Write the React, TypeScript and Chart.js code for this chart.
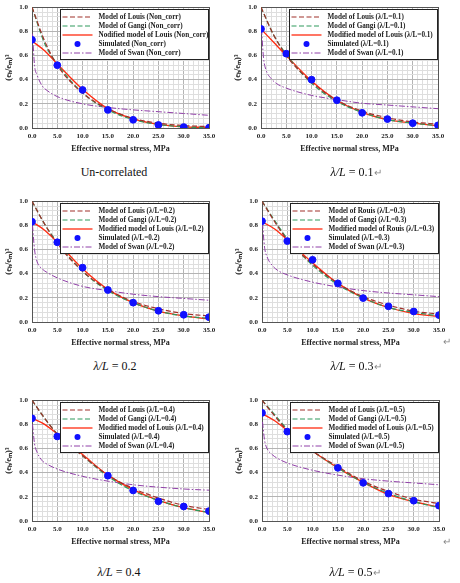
import React, { useEffect, useRef } from "react";
import { Chart, registerables } from "chart.js";
Chart.register(...registerables);

const SERIF = '"Liberation Serif", "Times New Roman", serif';
Chart.defaults.font.family = SERIF;

// x positions (MPa)
const X_MODEL = [0, 2.5, 5, 10, 15, 20, 25, 30, 35];
const X_SIM = [0, 5, 10, 15, 20, 25, 30, 35];
const X_SWAN = [0.1, 0.5, 1, 2, 3, 5, 10, 15, 20, 25, 30, 35];

// Un-correlated
const LOUIS_NC = [1.0, 0.72, 0.52, 0.29, 0.16, 0.08, 0.04, 0.02, 0.012];
const GANGI_NC = [1.0, 0.7, 0.53, 0.29, 0.15, 0.07, 0.03, 0.01, 0.0];
const MOD_NC = [0.72, 0.64, 0.53, 0.32, 0.16, 0.075, 0.03, 0.01, 0.005];
const SIM_NC = [0.73, 0.52, 0.315, 0.15, 0.068, 0.025, 0.008, 0.002];
const SWAN_NC = [0.78, 0.52, 0.44, 0.35, 0.31, 0.26, 0.2, 0.17, 0.15, 0.135, 0.12, 0.105];

// λ/L = 0.1
const LOUIS_01 = [1.0, 0.77, 0.6, 0.38, 0.23, 0.14, 0.085, 0.05, 0.032];
const GANGI_01 = [1.0, 0.77, 0.61, 0.37, 0.22, 0.13, 0.07, 0.04, 0.02];
const MOD_01 = [0.82, 0.71, 0.6, 0.39, 0.23, 0.13, 0.07, 0.04, 0.02];
const SIM_01 = [0.82, 0.615, 0.4, 0.23, 0.126, 0.074, 0.04, 0.022];
const SWAN_01 = [0.82, 0.58, 0.48, 0.41, 0.37, 0.33, 0.27, 0.235, 0.205, 0.19, 0.175, 0.16];

// λ/L = 0.2
const LOUIS_02 = [1.0, 0.81, 0.65, 0.42, 0.27, 0.17, 0.11, 0.07, 0.05];
const GANGI_02 = [1.0, 0.81, 0.66, 0.42, 0.26, 0.16, 0.09, 0.05, 0.03];
const MOD_02 = [0.83, 0.76, 0.66, 0.44, 0.27, 0.16, 0.09, 0.05, 0.025];
const SIM_02 = [0.83, 0.66, 0.45, 0.265, 0.16, 0.093, 0.06, 0.04];
const SWAN_02 = [0.8, 0.6, 0.5, 0.44, 0.41, 0.365, 0.295, 0.26, 0.23, 0.21, 0.195, 0.18];

// λ/L = 0.3
const LOUIS_03 = [1.0, 0.83, 0.68, 0.48, 0.32, 0.21, 0.14, 0.09, 0.065];
const GANGI_03 = [1.0, 0.84, 0.69, 0.47, 0.31, 0.2, 0.12, 0.08, 0.05];
const MOD_03 = [0.83, 0.77, 0.68, 0.49, 0.32, 0.2, 0.12, 0.07, 0.045];
const SIM_03 = [0.835, 0.67, 0.515, 0.32, 0.198, 0.13, 0.087, 0.057];
const SWAN_03 = [0.82, 0.62, 0.54, 0.47, 0.43, 0.39, 0.33, 0.29, 0.26, 0.24, 0.225, 0.21];

// λ/L = 0.4
const LOUIS_04 = [1.0, 0.85, 0.72, 0.54, 0.38, 0.27, 0.19, 0.13, 0.095];
const GANGI_04 = [1.0, 0.85, 0.72, 0.54, 0.37, 0.25, 0.17, 0.11, 0.07];
const MOD_04 = [0.85, 0.8, 0.72, 0.55, 0.38, 0.26, 0.17, 0.11, 0.07];
const SIM_04 = [0.85, 0.7, null, 0.375, 0.253, 0.163, 0.12, 0.082];
const SWAN_04 = [0.8, 0.64, 0.57, 0.5, 0.47, 0.43, 0.37, 0.33, 0.3, 0.28, 0.265, 0.255];

// λ/L = 0.5
const LOUIS_05 = [1.0, 0.87, 0.75, 0.58, 0.45, 0.33, 0.245, 0.18, 0.145];
const GANGI_05 = [1.0, 0.88, 0.76, 0.58, 0.44, 0.32, 0.23, 0.16, 0.11];
const MOD_05 = [0.89, 0.83, 0.75, 0.58, 0.44, 0.32, 0.22, 0.16, 0.115];
const SIM_05 = [0.895, 0.74, null, 0.44, 0.316, 0.227, 0.168, 0.127];
const SWAN_05 = [0.82, 0.67, 0.6, 0.55, 0.52, 0.48, 0.42, 0.38, 0.35, 0.33, 0.315, 0.3];

const X_TICK_STEP = 1;
const Y_TICK_STEP = 0.04;
const X_TITLE = "Effective normal stress, MPa";
const Y_TITLE = "(eₕ/eₘ)³";

const NAMES_NC = [
  "Model of Louis (Non_corr)",
  "Model of Gangi (Non_corr)",
  "Nodified model of Louis (Non_corr)",
  "Simulated (Non_corr)",
  "Model of Swan (Non_corr)",
];
const names = (tag: string, who: string) => [
  `Model of ${who} (λ/L=${tag})`,
  `Model of Gangi (λ/L=${tag})`,
  `Modified model of ${who} (λ/L=${tag})`,
  `Simulated (λ/L=${tag})`,
  `Model of Swan (λ/L=${tag})`,
];

const PANELS = [
  { left: 0, top: -1, names: NAMES_NC, louis: LOUIS_NC, gangi: GANGI_NC, mod: MOD_NC, sim: SIM_NC, swan: SWAN_NC },
  { left: 229, top: -1, names: names("0.1", "Louis"), louis: LOUIS_01, gangi: GANGI_01, mod: MOD_01, sim: SIM_01, swan: SWAN_01 },
  { left: 0, top: 193, names: names("0.2", "Louis"), louis: LOUIS_02, gangi: GANGI_02, mod: MOD_02, sim: SIM_02, swan: SWAN_02 },
  { left: 230, top: 193, names: names("0.3", "Rouis"), louis: LOUIS_03, gangi: GANGI_03, mod: MOD_03, sim: SIM_03, swan: SWAN_03 },
  { left: 0, top: 392, names: names("0.4", "Louis"), louis: LOUIS_04, gangi: GANGI_04, mod: MOD_04, sim: SIM_04, swan: SWAN_04 },
  { left: 230, top: 392, names: names("0.5", "Louis"), louis: LOUIS_05, gangi: GANGI_05, mod: MOD_05, sim: SIM_05, swan: SWAN_05 },
];

const CAPTIONS = [
  { x: 114, y: 172, pre: "Un-correlated", val: "", ret: false },
  { x: 356, y: 172, pre: "λ/L", val: " = 0.1", ret: true },
  { x: 115, y: 366, pre: "λ/L", val: " = 0.2", ret: false },
  { x: 356, y: 366, pre: "λ/L", val: " = 0.3", ret: true },
  { x: 119, y: 572, pre: "λ/L", val: " = 0.4", ret: false },
  { x: 355, y: 572, pre: "λ/L", val: " = 0.5", ret: true },
];

const pts = (xs: number[], ys: (number | null)[]) => xs.map((x, i) => ({ x, y: ys[i] }));

const framePlugin = {
  id: "frame",
  beforeDatasetsDraw(chart: any) {
    const { ctx, chartArea: a } = chart;
    ctx.save();
    ctx.strokeStyle = "#555";
    ctx.lineWidth = 1;
    ctx.strokeRect(Math.round(a.left) + 0.5, Math.round(a.top) + 0.5, Math.round(a.right - a.left), Math.round(a.bottom - a.top));
    ctx.restore();
  },
};

const boxLegendPlugin = {
  id: "boxLegend",
  afterDatasetsDraw(chart: any, _args: any, opts: any) {
    const { ctx, chartArea: a } = chart;
    const labels: string[] = opts.labels || [];
    const left = Math.round(a.left) + 28.5;
    const top = Math.round(a.top) + 2.5;
    const right = Math.round(a.right) - 0.5;
    const h = 50;
    ctx.save();
    ctx.fillStyle = "#fff";
    ctx.fillRect(left, top, right - left, h);
    ctx.strokeStyle = "#222";
    ctx.lineWidth = 1;
    ctx.strokeRect(left, top, right - left, h);
    labels.forEach((lab, i) => {
      const ds = chart.data.datasets[i];
      const y = top + 7.5 + i * 9;
      if (ds.showLine === false) {
        ctx.beginPath();
        ctx.fillStyle = ds.pointBackgroundColor;
        ctx.arc(left + 17, y, 3, 0, Math.PI * 2);
        ctx.fill();
      } else {
        ctx.beginPath();
        ctx.setLineDash(ds.borderDash || []);
        ctx.strokeStyle = ds.borderColor;
        ctx.lineWidth = ds.borderWidth;
        ctx.moveTo(left + 2, y);
        ctx.lineTo(left + 32, y);
        ctx.stroke();
        ctx.setLineDash([]);
      }
      ctx.fillStyle = "#222";
      ctx.font = `bold 7.2px ${SERIF}`;
      ctx.textBaseline = "middle";
      ctx.textAlign = "left";
      ctx.fillText(lab, left + 38, y + 0.5);
    });
    ctx.restore();
  },
};

const isMult = (v: number, s: number) => Math.abs(v / s - Math.round(v / s)) < 1e-6;

function Panel({ p }: { p: any }) {
  const ref = useRef<HTMLCanvasElement>(null);
  useEffect(() => {
    const line = (label: string, data: any, color: string, dash: number[], width: number) => ({
      label,
      data,
      showLine: true,
      borderColor: color,
      backgroundColor: color,
      borderDash: dash,
      borderWidth: width,
      pointRadius: 0,
      cubicInterpolationMode: "monotone",
      order: 1,
    });
    const chart = new Chart(ref.current!, {
      type: "scatter",
      data: {
        datasets: [
          line(p.names[0], pts(X_MODEL, p.louis), "#a0302a", [5, 2.5], 1.2),
          line(p.names[1], pts(X_MODEL, p.gangi), "#2e9a5c", [5, 2.5], 1.2),
          line(p.names[2], pts(X_MODEL, p.mod), "#ff2a10", [], 1.3),
          {
            label: p.names[3],
            data: pts(X_SIM, p.sim),
            showLine: false,
            pointRadius: 3.4,
            pointBackgroundColor: "#1010ff",
            pointBorderColor: "#1010ff",
            borderColor: "#1010ff",
            backgroundColor: "#1010ff",
            order: -1,
          },
          line(p.names[4], pts(X_SWAN, p.swan), "#9040a8", [6, 2, 1.5, 2], 1),
        ],
      } as any,
      options: {
        responsive: false,
        animation: false,
        devicePixelRatio: 1,
        layout: { padding: { top: 7, right: 21, left: 0, bottom: 0 } },
        plugins: {
          legend: { display: false },
          tooltip: { enabled: false },
          boxLegend: { labels: p.names },
        } as any,
        scales: {
          x: {
            type: "linear",
            min: 0,
            max: 35,
            afterFit: (s: any) => {
              s.height = 33;
            },
            ticks: {
              stepSize: X_TICK_STEP,
              autoSkip: false,
              maxRotation: 0,
              padding: 4,
              color: "#222",
              font: { size: 7, weight: "bold" },
              callback: (v: any) => (isMult(Number(v), 5) ? Number(v).toFixed(1) : ""),
            },
            grid: {
              drawTicks: false,
              color: (c: any) => (isMult(c.tick?.value ?? 0, 5) ? "#b4b4b4" : "#dedede"),
            },
            border: { display: false },
            title: {
              display: true,
              text: X_TITLE,
              color: "#222",
              font: { size: 8, weight: "bold" },
              padding: { top: 0, bottom: 7 },
            },
          },
          y: {
            type: "linear",
            min: 0,
            max: 1,
            afterFit: (s: any) => {
              s.width = 32;
            },
            ticks: {
              stepSize: Y_TICK_STEP,
              autoSkip: false,
              padding: 4,
              color: "#222",
              font: { size: 7, weight: "bold" },
              callback: (v: any) => (isMult(Number(v), 0.2) ? Number(v).toFixed(1) : ""),
            },
            grid: {
              drawTicks: false,
              color: (c: any) => (isMult(c.tick?.value ?? 0, 0.2) ? "#b4b4b4" : "#dedede"),
            },
            border: { display: false },
            title: {
              display: true,
              text: Y_TITLE,
              color: "#222",
              font: { size: 8.5, weight: "bold" },
              padding: { top: 3.5, bottom: 0 },
            },
          },
        },
      } as any,
      plugins: [framePlugin, boxLegendPlugin],
    });
    return () => chart.destroy();
  }, []);
  return (
    <canvas
      ref={ref}
      width={230}
      height={162}
      style={{ position: "absolute", left: p.left, top: p.top, width: 230, height: 162 }}
    />
  );
}

export default function App() {
  return (
    <div
      style={{
        position: "absolute",
        left: 0,
        top: 0,
        width: 460,
        height: 583,
        background: "#fff",
        overflow: "hidden",
        fontFamily: SERIF,
      }}
    >
      {PANELS.map((p, i) => (
        <Panel key={i} p={p} />
      ))}
      {CAPTIONS.map((c, i) => (
        <div
          key={"c" + i}
          style={{
            position: "absolute",
            left: c.x - 80,
            width: 160,
            top: c.y - 8,
            height: 16,
            lineHeight: "16px",
            textAlign: "center",
            fontSize: 12,
            color: "#111",
            whiteSpace: "nowrap",
          }}
        >
          {c.val ? <i>{c.pre}</i> : c.pre}
          {c.val}
          {c.ret ? <span style={{ fontSize: 10, color: "#888" }}>↵</span> : null}
        </div>
      ))}
      <div style={{ position: "absolute", left: 443, top: 336, fontSize: 10, color: "#888" }}>↵</div>
      <div style={{ position: "absolute", left: 443, top: 536, fontSize: 10, color: "#888" }}>↵</div>
    </div>
  );
}
